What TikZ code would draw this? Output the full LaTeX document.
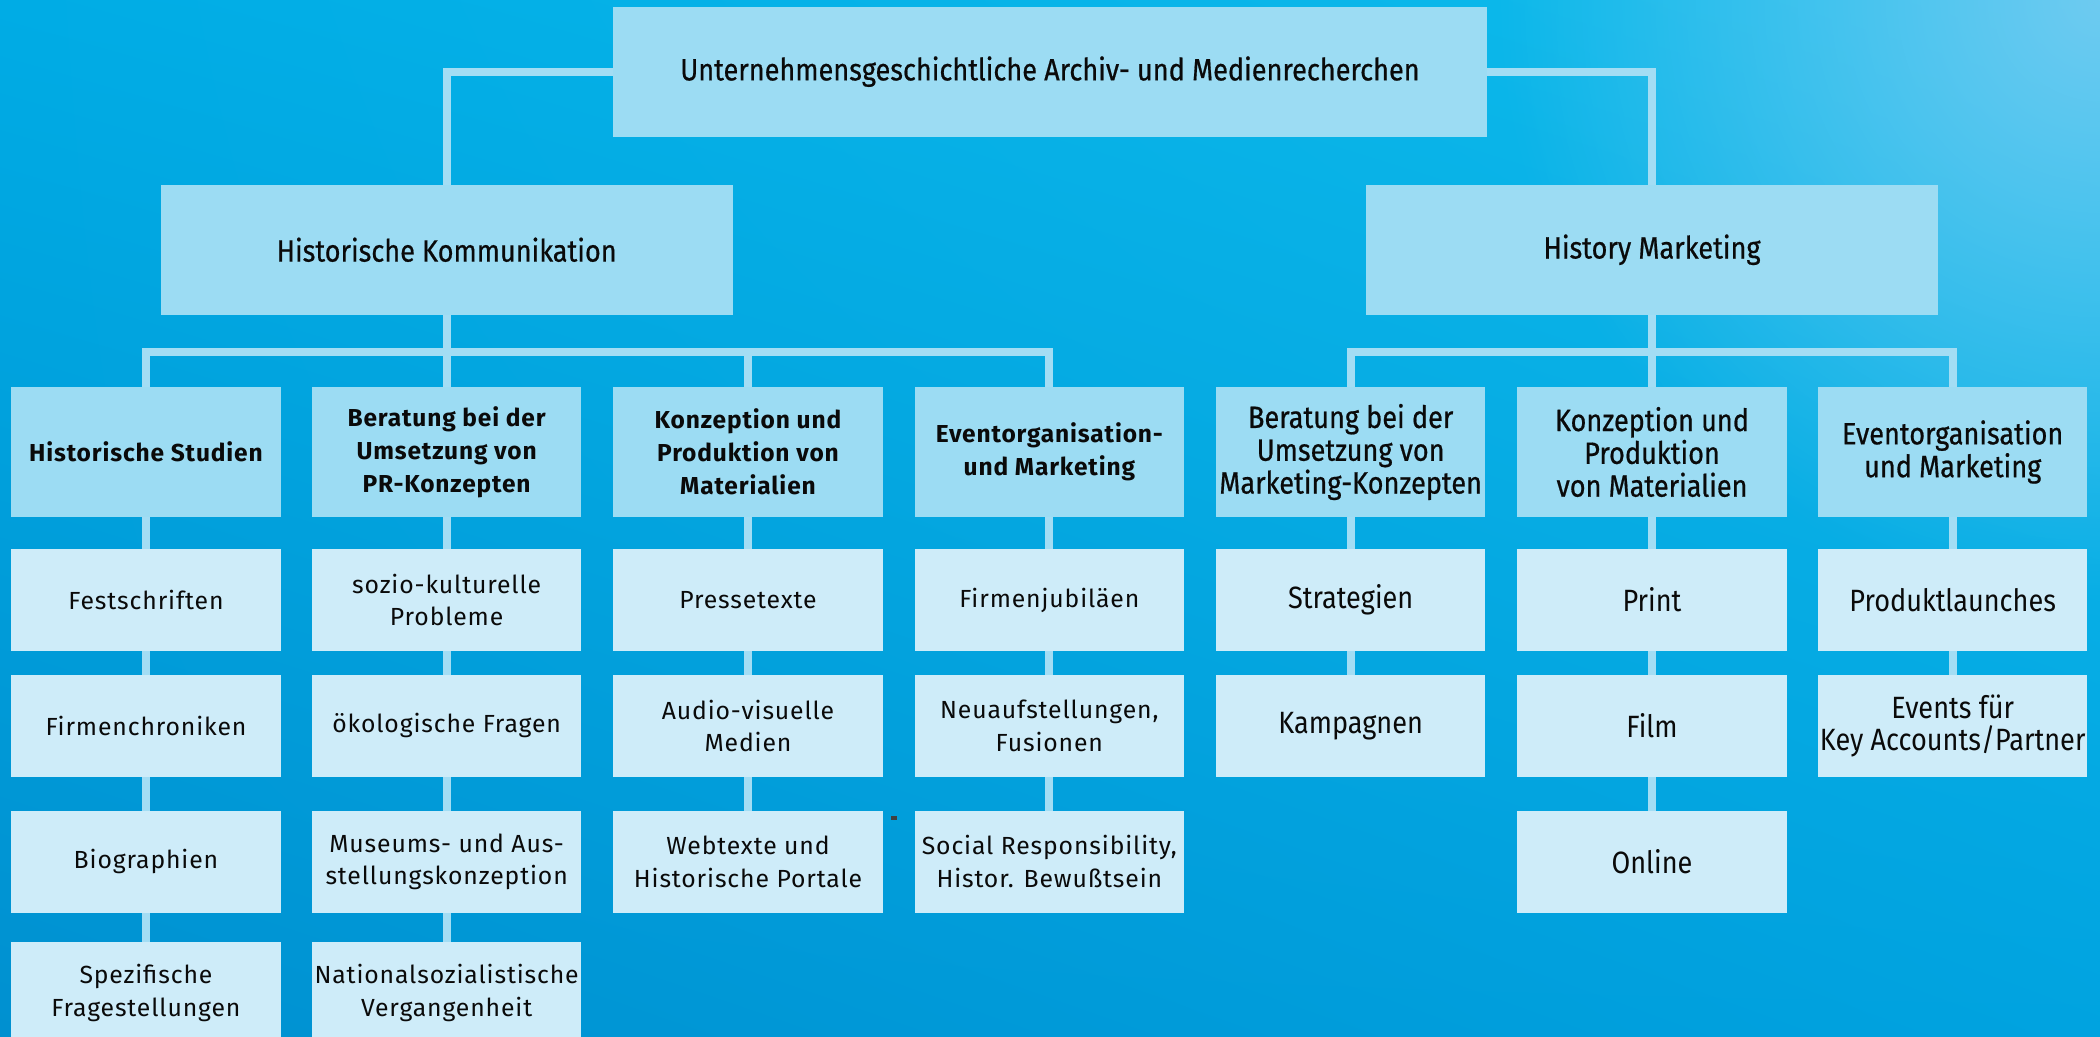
\documentclass[tikz,border=0pt]{standalone}
\usepackage{fontspec}
\setmainfont{Fira Sans}
\newfontfamily\condf{Fira Sans}[FakeStretch=0.88]
\newfontfamily\condm{Fira Sans}[FakeStretch=0.88,FakeBold=0.6]
\newfontfamily\widef{Fira Sans}[LetterSpace=3.5]
\usetikzlibrary{fadings,shadings}
\tikzfading[name=glowfade, inner color=transparent!0, outer color=transparent!100]
\definecolor{boxA}{HTML}{9CDCF3}
\definecolor{boxB}{HTML}{CEECF9}
\definecolor{conn}{HTML}{A3DDF4}
\definecolor{txt}{HTML}{0A0A0A}
\definecolor{bgUL}{HTML}{00ACE5}
\definecolor{bgUR}{HTML}{10BCEC}
\definecolor{bgLL}{HTML}{0090D0}
\definecolor{bgLR}{HTML}{00A3E0}
\definecolor{glow}{HTML}{6ECBF1}
\begin{document}
\begin{tikzpicture}[x=1pt,y=-1pt,
  hbox/.style={fill=boxA, inner sep=0pt, align=center, text=txt},
  topbox/.style={hbox, minimum width=652pt, minimum height=97pt, font=\condm\fontsize{23}{27}\selectfont},
  midbox/.style={hbox, minimum width=427pt, minimum height=97pt, font=\condm\fontsize{23}{27}\selectfont},
  lthree/.style={hbox, minimum width=201pt, minimum height=97pt, font=\widef\bfseries\fontsize{18.3}{24.5}\selectfont},
  rthree/.style={hbox, minimum width=201pt, minimum height=97pt, font=\condm\fontsize{23}{24.5}\selectfont},
  lfour/.style={fill=boxB, inner sep=0pt, align=center, text=txt, minimum width=201pt, minimum height=76pt, font=\widef\fontsize{18.5}{24.5}\selectfont},
  rfour/.style={fill=boxB, inner sep=0pt, align=center, text=txt, minimum width=201pt, minimum height=76pt, font=\condf\fontsize{23}{24.5}\selectfont},
  link/.style={draw=conn, line width=5.8pt}
]
\clip (0,0) rectangle (1568,774);
\shade[upper left=bgUL, upper right=bgUR, lower left=bgLL, lower right=bgLR] (0,0) rectangle (1568,774);
\fill[glow, path fading=glowfade] (1568,0) circle (450);

% level 1 and 2
\node[topbox] (top) at (784,53.5) {Unternehmensgeschichtliche Archiv- und Medienrecherchen};
\node[midbox] (hk) at (333.5,186.5) {Historische Kommunikation};
\node[midbox] (hm) at (1233.5,186.5) {History Marketing};

% level 3
\node[lthree] (a0) at (109,337.5) {Historische Studien};
\node[lthree] (b0) at (333.5,337.5) {Beratung bei der\\Umsetzung von\\PR-Konzepten};
\node[lthree] (c0) at (558.5,337.5) {Konzeption und\\Produktion von\\Materialien};
\node[lthree] (d0) at (783.5,337.5) {Eventorganisation-\\und Marketing};
\node[rthree] (e0) at (1008.5,337.5) {Beratung bei der\\Umsetzung von\\Marketing-Konzepten};
\node[rthree] (f0) at (1233.5,337.5) {Konzeption und\\Produktion\\von Materialien};
\node[rthree] (g0) at (1458,337.5) {Eventorganisation\\und Marketing};

% level 4
\node[lfour] (a1) at (109,448) {Festschriften};
\node[lfour] (a2) at (109,542) {Firmenchroniken};
\node[lfour] (a3) at (109,643.5) {Biographien};
\node[lfour] (a4) at (109,741.5) {Spezifische\\Fragestellungen};
\node[lfour] (b1) at (333.5,448) {sozio-kulturelle\\Probleme};
\node[lfour] (b2) at (333.5,542) {ökologische Fragen};
\node[lfour] (b3) at (333.5,643.5) {Museums- und Aus-\\stellungskonzeption};
\node[lfour] (b4) at (333.5,741.5) {Nationalsozialistische\\Vergangenheit};
\node[lfour] (c1) at (558.5,448) {Pressetexte};
\node[lfour] (c2) at (558.5,542) {Audio-visuelle\\Medien};
\node[lfour] (c3) at (558.5,643.5) {Webtexte und\\Historische Portale};
\node[lfour] (d1) at (783.5,448) {Firmenjubiläen};
\node[lfour] (d2) at (783.5,542) {Neuaufstellungen,\\Fusionen};
\node[lfour] (d3) at (783.5,643.5) {Social Responsibility,\\Histor. Bewußtsein};
\node[rfour] (e1) at (1008.5,448) {Strategien};
\node[rfour] (e2) at (1008.5,542) {Kampagnen};
\node[rfour] (f1) at (1233.5,448) {Print};
\node[rfour] (f2) at (1233.5,542) {Film};
\node[rfour] (f3) at (1233.5,643.5) {Online};
\node[rfour] (g1) at (1458,448) {Produktlaunches};
\node[rfour] (g2) at (1458,542) {Events für\\Key Accounts/Partner};

% connectors
\coordinate (hkbar) at (333.5,263);
\coordinate (hmbar) at (1233.5,263);
\draw[link] (top.west) -| (hk.north);
\draw[link] (top.east) -| (hm.north);
\draw[link] (hk.south) -- (hkbar);
\draw[link] (hm.south) -- (hmbar);
\draw[link] (a0.north) |- (hkbar);
\draw[link] (b0.north) -- (hkbar);
\draw[link] (c0.north) |- (hkbar);
\draw[link] (d0.north) |- (hkbar);
\draw[link] (e0.north) |- (hmbar);
\draw[link] (f0.north) -- (hmbar);
\draw[link] (g0.north) |- (hmbar);
\draw[link] (a0.south) -- (a1.north) (a1.south) -- (a2.north) (a2.south) -- (a3.north) (a3.south) -- (a4.north);
\draw[link] (b0.south) -- (b1.north) (b1.south) -- (b2.north) (b2.south) -- (b3.north) (b3.south) -- (b4.north);
\draw[link] (c0.south) -- (c1.north) (c1.south) -- (c2.north) (c2.south) -- (c3.north);
\draw[link] (d0.south) -- (d1.north) (d1.south) -- (d2.north) (d2.south) -- (d3.north);
\draw[link] (e0.south) -- (e1.north) (e1.south) -- (e2.north);
\draw[link] (f0.south) -- (f1.north) (f1.south) -- (f2.north) (f2.south) -- (f3.north);
\draw[link] (g0.south) -- (g1.north) (g1.south) -- (g2.north);

% small mark
\fill[black!75] (665,609.5) rectangle (670,612);
\end{tikzpicture}
\end{document}
